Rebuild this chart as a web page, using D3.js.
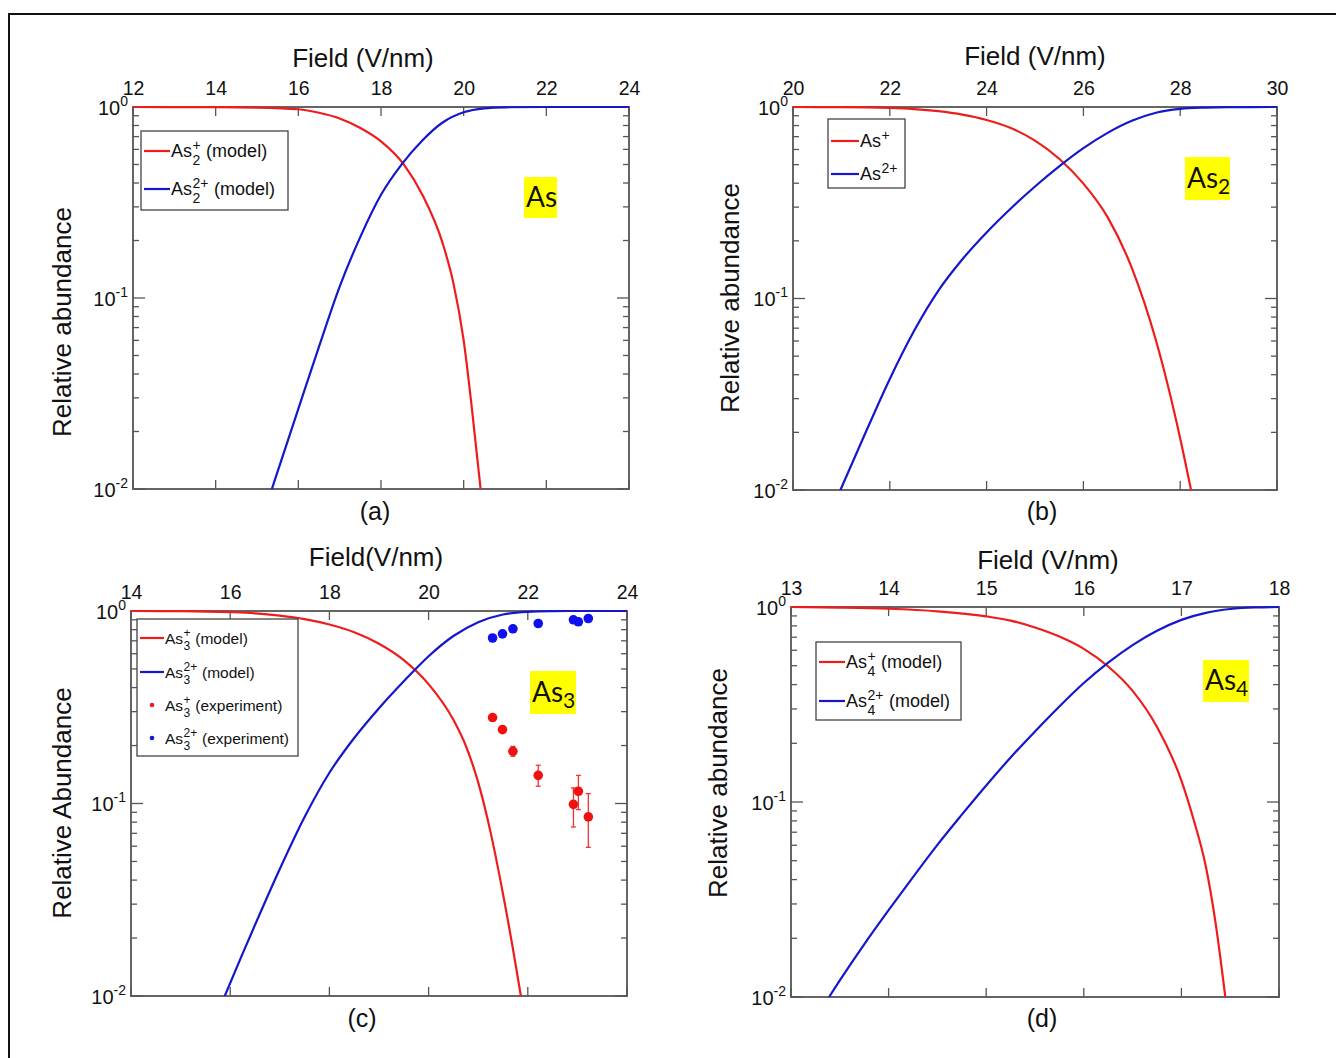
<!DOCTYPE html>
<html>
<head>
<meta charset="utf-8">
<script src="https://cdn.jsdelivr.net/npm/d3@7"></script>
<style>
  html, body { margin: 0; padding: 0; background: #fff; }
  svg { display: block; }
  text { font-family: "Liberation Sans", Arial, sans-serif; fill: #111; }
</style>
</head>
<body>
<svg id="chart" width="1336" height="1058"></svg>
<script>
// ---------------- DATA ----------------
// Panel (a) As
const aTicksX = [12, 14, 16, 18, 20, 22, 24];
const aRedField = [12, 14, 15, 16, 16.5, 17, 17.5, 18, 18.55, 19, 19.5, 19.75, 20, 20.2, 20.41];
const aRedValue = [1.0, 0.998, 0.993, 0.973, 0.933, 0.871, 0.776, 0.661, 0.501, 0.347, 0.191, 0.120, 0.060, 0.0263, 0.01];
const aBlueField = [15.36, 15.5, 16, 16.5, 17, 17.5, 18, 18.5, 19, 19.5, 20, 20.5, 21, 22, 24];
const aBlueValue = [0.01, 0.01236, 0.0263, 0.0556, 0.1148, 0.209, 0.347, 0.501, 0.668, 0.832, 0.938, 0.984, 0.9966, 1.0, 1.0];

// Panel (b) As2
const bTicksX = [20, 22, 24, 26, 28, 30];
const bRedField = [20, 21, 22, 22.5, 23, 23.5, 24, 24.5, 25, 25.5, 26, 26.5, 27, 27.5, 28, 28.25];
const bRedValue = [1.0, 0.9984, 0.9886, 0.975, 0.9506, 0.912, 0.855, 0.776, 0.668, 0.537, 0.398, 0.266, 0.1445, 0.0603, 0.0186, 0.0093];
const bBlueField = [20.98, 21.5, 22, 22.5, 23, 23.5, 24, 24.5, 25, 25.5, 26, 26.5, 27, 27.5, 28, 28.5, 29, 30];
const bBlueValue = [0.01, 0.01995, 0.0380, 0.0676, 0.1096, 0.1603, 0.2213, 0.2951, 0.3846, 0.4898, 0.6095, 0.7328, 0.8472, 0.9333, 0.9772, 0.9931, 0.9986, 1.0];

// Panel (c) As3
const cTicksX = [14, 16, 18, 20, 22, 24];
const cRedField = [14, 15, 16, 16.5, 17, 17.5, 18, 18.5, 19, 19.5, 20, 20.5, 20.75, 21, 21.25, 21.5, 21.75, 21.9];
const cRedValue = [1.0, 0.9977, 0.9863, 0.9727, 0.9462, 0.9078, 0.851, 0.776, 0.676, 0.556, 0.417, 0.272, 0.1995, 0.1288, 0.0708, 0.0339, 0.0148, 0.0087];
const cBlueField = [15.89, 16.25, 16.5, 17, 17.5, 18, 18.5, 19, 19.5, 20, 20.5, 21, 21.5, 22, 22.5, 23, 24];
const cBlueValue = [0.01, 0.0166, 0.0234, 0.0457, 0.0851, 0.1445, 0.2188, 0.3126, 0.4315, 0.5821, 0.7413, 0.8750, 0.9594, 0.9897, 0.9977, 1.0, 1.0];
const cExpField = [21.29, 21.49, 21.70, 22.21, 22.92, 23.02, 23.22];
const cExpBlue = [0.724, 0.761, 0.808, 0.861, 0.90, 0.879, 0.914];
const cExpRed = [0.2795, 0.242, 0.1867, 0.140, 0.099, 0.1157, 0.0852];
const cExpRedLow = [0.272, 0.235, 0.176, 0.123, 0.0755, 0.093, 0.0592];
const cExpRedHigh = [0.287, 0.249, 0.198, 0.158, 0.1205, 0.140, 0.1126];

// Panel (d) As4
const dTicksX = [13, 14, 15, 16, 17, 18];
const dRedField = [13, 13.5, 14, 14.5, 15, 15.25, 15.5, 15.75, 16, 16.25, 16.5, 16.75, 17, 17.125, 17.25, 17.35, 17.45];
const dRedValue = [1.0, 0.9931, 0.9795, 0.9506, 0.8954, 0.851, 0.785, 0.705, 0.610, 0.4955, 0.3715, 0.2427, 0.1288, 0.0813, 0.0468, 0.024, 0.01];
const dBlueField = [13.39, 13.5, 13.75, 14, 14.25, 14.5, 14.75, 15, 15.25, 15.5, 15.75, 16, 16.25, 16.5, 16.75, 17, 17.25, 17.5, 17.75, 18];
const dBlueValue = [0.01, 0.01216, 0.01862, 0.02786, 0.0412, 0.0603, 0.0861, 0.1216, 0.1690, 0.2301, 0.309, 0.4074, 0.5188, 0.638, 0.755, 0.859, 0.933, 0.977, 0.9954, 1.0];

const yMajorTicks = [0.01, 0.1, 1];
const yMajorExp = ["-2", "-1", "0"];

// ---------------- DRAWING ----------------
const RED = "#ee1c1c", BLUE = "#1616cc", AXIS = "#555";
const svg = d3.select("#chart");

// outer frame
svg.append("rect").attr("x", 9).attr("y", 14).attr("width", 1340).attr("height", 1060)
  .attr("fill", "none").attr("stroke", "#111").attr("stroke-width", 2);

function zipXY(xs, ys) { return xs.map((x, i) => [x, ys[i]]); }

function chem(g, x, y, size, sub, sup, rest) {
  const t = g.append("text").attr("x", x).attr("y", y).attr("font-size", size).text("As");
  const xe = x + t.node().getComputedTextLength() + 0.5;
  let w = 0;
  if (sub) {
    const s = g.append("text").attr("x", xe).attr("y", y + size * 0.42).attr("font-size", size * 0.78).text(sub);
    w = Math.max(w, s.node().getComputedTextLength());
  }
  if (sup) {
    const s = g.append("text").attr("x", xe).attr("y", y - size * 0.42).attr("font-size", size * 0.78).text(sup);
    w = Math.max(w, s.node().getComputedTextLength());
  }
  if (rest) {
    g.append("text").attr("x", xe + w + size * 0.3).attr("y", y).attr("font-size", size).text(rest);
  }
}

function drawPanel(p) {
  const x = d3.scaleLinear().domain(p.domain).range([p.x0, p.x1]);
  const y = d3.scaleLog().domain([0.01, 1]).range([p.y1, p.y0]);
  const g = svg.append("g");
  const clipId = "clip" + p.id;
  g.append("clipPath").attr("id", clipId).append("rect")
    .attr("x", p.x0).attr("y", p.y0 - 2).attr("width", p.x1 - p.x0).attr("height", p.y1 - p.y0 + 2);

  // minor & major y ticks (left and right, inward)
  const yTicksAll = [];
  for (let e = -2; e < 0; e++) for (let m = 1; m <= 9; m++) yTicksAll.push(m * Math.pow(10, e));
  yTicksAll.push(1);
  const ta = g.append("g").attr("stroke", AXIS).attr("stroke-width", 1.3);
  yTicksAll.forEach(v => {
    const major = yMajorTicks.some(mv => Math.abs(mv - v) / v < 1e-6);
    const len = major ? 12 : 6;
    const yy = y(v);
    ta.append("line").attr("x1", p.x0).attr("x2", p.x0 + len).attr("y1", yy).attr("y2", yy);
    ta.append("line").attr("x1", p.x1).attr("x2", p.x1 - len).attr("y1", yy).attr("y2", yy);
  });
  // x ticks top & bottom inward
  p.ticks.forEach(t => {
    const xx = x(t);
    ta.append("line").attr("x1", xx).attr("x2", xx).attr("y1", p.y0).attr("y2", p.y0 + 9);
    ta.append("line").attr("x1", xx).attr("x2", xx).attr("y1", p.y1).attr("y2", p.y1 - 9);
  });
  // axes box
  g.append("rect").attr("x", p.x0).attr("y", p.y0).attr("width", p.x1 - p.x0).attr("height", p.y1 - p.y0)
    .attr("fill", "none").attr("stroke", AXIS).attr("stroke-width", 1.8);

  // top axis labels via d3 axis
  const xa = d3.axisTop(x).tickValues(p.ticks).tickSize(0).tickPadding(12).tickFormat(d3.format("d"));
  const xg = g.append("g").attr("transform", `translate(0,${p.y0})`).call(xa);
  xg.select(".domain").remove();
  xg.selectAll("text").attr("font-size", 19.5).attr("fill", "#222")
    .style("font-family", '"Liberation Sans", Arial, sans-serif');

  // y labels 10^k
  yMajorTicks.forEach((v, i) => {
    const t = g.append("text").attr("x", p.x0 - 5).attr("y", y(v) + 7.5).attr("text-anchor", "end")
      .attr("font-size", 20).attr("fill", "#222");
    t.append("tspan").text("10");
    t.append("tspan").attr("dy", -9).attr("font-size", 14).text(yMajorExp[i]);
  });

  // curves
  const line = d3.line().x(d => x(d[0])).y(d => y(d[1])).curve(d3.curveMonotoneX);
  const cg = g.append("g").attr("clip-path", `url(#${clipId})`);
  cg.append("path").datum(zipXY(p.redF, p.redV)).attr("d", line)
    .attr("fill", "none").attr("stroke", RED).attr("stroke-width", 2.2);
  cg.append("path").datum(zipXY(p.blueF, p.blueV)).attr("d", line)
    .attr("fill", "none").attr("stroke", BLUE).attr("stroke-width", 2.2);

  if (p.exp) {
    const e = p.exp;
    e.field.forEach((f, i) => {
      const xx = x(f);
      cg.append("line").attr("x1", xx).attr("x2", xx).attr("y1", y(e.low[i])).attr("y2", y(e.high[i]))
        .attr("stroke", "#e33").attr("stroke-width", 1.3);
      [e.low[i], e.high[i]].forEach(v => {
        cg.append("line").attr("x1", xx - 2.5).attr("x2", xx + 2.5).attr("y1", y(v)).attr("y2", y(v))
          .attr("stroke", "#e33").attr("stroke-width", 1.3);
      });
      cg.append("circle").attr("cx", xx).attr("cy", y(e.red[i])).attr("r", 4.8).attr("fill", "#f01010");
      cg.append("circle").attr("cx", xx).attr("cy", y(e.blue[i])).attr("r", 4.8).attr("fill", "#1010ee");
    });
  }

  // titles
  g.append("text").attr("x", p.titleX).attr("y", p.titleY).attr("text-anchor", "middle")
    .attr("font-size", 26).text(p.title);
  g.append("text").attr("transform", `translate(${p.ylabX},${p.ylabY}) rotate(-90)`)
    .attr("text-anchor", "middle").attr("font-size", 26).text(p.ylab);
  g.append("text").attr("x", p.capX).attr("y", p.capY).attr("text-anchor", "middle")
    .attr("font-size", 25).text(p.cap);

  // legend
  const L = p.legend;
  const lg = g.append("g");
  lg.append("rect").attr("x", L.x).attr("y", L.y).attr("width", L.w).attr("height", L.h)
    .attr("fill", "#fff").attr("stroke", "#444").attr("stroke-width", 1.3);
  L.items.forEach(it => {
    if (it.type === "line") {
      lg.append("line").attr("x1", L.x + 3).attr("x2", L.x + L.lineLen).attr("y1", it.y).attr("y2", it.y)
        .attr("stroke", it.color).attr("stroke-width", 2.2);
    } else {
      lg.append("circle").attr("cx", L.x + 15).attr("cy", it.y).attr("r", 2.3).attr("fill", it.color);
    }
    chem(lg, L.x + L.lineLen + 1, it.y + L.size * 0.36, L.size, it.sub, it.sup, it.rest);
  });

  // yellow tag
  const T = p.tag;
  g.append("rect").attr("x", T.x).attr("y", T.y).attr("width", T.w).attr("height", T.h).attr("fill", "#ffff00");
  const tt = g.append("text").attr("x", T.x + 2).attr("y", T.y + T.h * 0.72)
    .attr("font-size", 28).style("font-family", "Lato, 'Open Sans', sans-serif").attr("fill", "#000");
  tt.append("tspan").text("As");
  if (T.sub) tt.append("tspan").attr("dy", 6).attr("font-size", 21).text(T.sub);
}

drawPanel({
  id: "a", domain: [12, 24], x0: 133, x1: 629, y0: 107, y1: 489, ticks: aTicksX,
  redF: aRedField, redV: aRedValue, blueF: aBlueField, blueV: aBlueValue,
  title: "Field (V/nm)", titleX: 363, titleY: 67, ylab: "Relative abundance", ylabX: 71, ylabY: 322,
  cap: "(a)", capX: 375, capY: 520,
  legend: { x: 141, y: 131, w: 147, h: 79, lineLen: 29, size: 18, items: [
    { type: "line", color: RED, y: 151, sub: "2", sup: "+", rest: "(model)" },
    { type: "line", color: BLUE, y: 189, sub: "2", sup: "2+", rest: "(model)" } ] },
  tag: { x: 524, y: 177, w: 33, h: 41, sub: null }
});

drawPanel({
  id: "b", domain: [20, 30], x0: 793, x1: 1277, y0: 107, y1: 490, ticks: bTicksX,
  redF: bRedField, redV: bRedValue, blueF: bBlueField, blueV: bBlueValue,
  title: "Field (V/nm)", titleX: 1035, titleY: 65, ylab: "Relative abundance", ylabX: 739, ylabY: 298,
  cap: "(b)", capX: 1042, capY: 520,
  legend: { x: 828, y: 119, w: 77, h: 69, lineLen: 31, size: 18, items: [
    { type: "line", color: RED, y: 141, sub: null, sup: "+", rest: null },
    { type: "line", color: BLUE, y: 174, sub: null, sup: "2+", rest: null } ] },
  tag: { x: 1185, y: 157, w: 45, h: 43, sub: "2" }
});

drawPanel({
  id: "c", domain: [14, 24], x0: 131, x1: 627, y0: 611, y1: 996, ticks: cTicksX,
  redF: cRedField, redV: cRedValue, blueF: cBlueField, blueV: cBlueValue,
  exp: { field: cExpField, red: cExpRed, low: cExpRedLow, high: cExpRedHigh, blue: cExpBlue },
  title: "Field(V/nm)", titleX: 376, titleY: 566, ylab: "Relative Abundance", ylabX: 71, ylabY: 803,
  cap: "(c)", capX: 362, capY: 1027,
  legend: { x: 137, y: 619, w: 161, h: 137, lineLen: 27, size: 15.5, items: [
    { type: "line", color: RED, y: 638, sub: "3", sup: "+", rest: "(model)" },
    { type: "line", color: BLUE, y: 672, sub: "3", sup: "2+", rest: "(model)" },
    { type: "dot", color: RED, y: 705, sub: "3", sup: "+", rest: "(experiment)" },
    { type: "dot", color: BLUE, y: 738, sub: "3", sup: "2+", rest: "(experiment)" } ] },
  tag: { x: 530, y: 671, w: 46, h: 43, sub: "3" }
});

drawPanel({
  id: "d", domain: [13, 18], x0: 791, x1: 1279, y0: 607, y1: 997, ticks: dTicksX,
  redF: dRedField, redV: dRedValue, blueF: dBlueField, blueV: dBlueValue,
  title: "Field (V/nm)", titleX: 1048, titleY: 569, ylab: "Relative abundance", ylabX: 727, ylabY: 783,
  cap: "(d)", capX: 1042, capY: 1027,
  legend: { x: 816, y: 642, w: 145, h: 78, lineLen: 29, size: 18, items: [
    { type: "line", color: RED, y: 662, sub: "4", sup: "+", rest: "(model)" },
    { type: "line", color: BLUE, y: 701, sub: "4", sup: "2+", rest: "(model)" } ] },
  tag: { x: 1203, y: 660, w: 46, h: 42, sub: "4" }
});
</script>
</body>
</html>
